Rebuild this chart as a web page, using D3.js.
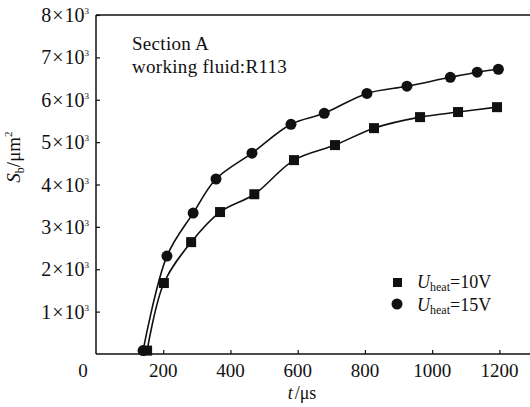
<!DOCTYPE html>
<html>
<head>
<meta charset="utf-8">
<script src="https://cdn.jsdelivr.net/npm/d3@7"></script>
<style>
  body { margin: 0; background: #fff; }
  svg text { font-family: "Liberation Serif", "Times New Roman", serif; fill: #111; }
</style>
</head>
<body>
<div id="chart"></div>
<script>
// S_b vs t, two heating voltages

const tenV_t = [152, 202, 283, 369, 471, 589, 711, 827, 964, 1077, 1193];
const tenV_s = [80, 1675, 2640, 3350, 3770, 4575, 4930, 5330, 5590, 5710, 5825];

const fifteenV_t = [140, 211, 289, 357, 464, 580, 679, 806, 925, 1054, 1134, 1197];
const fifteenV_s = [80, 2310, 3325, 4130, 4740, 5420, 5680, 6150, 6320, 6530, 6650, 6720];

const xTicks = [200, 400, 600, 800, 1000, 1200];
const yTicks = [1, 2, 3, 4, 5, 6, 7, 8];

const W = 530, H = 407;

const svg = d3.select("#chart")
    .append("svg")
    .attr("width", W)
    .attr("height", H);

const x = d3.scaleLinear().domain([0, 1300]).range([96, 533]);
const y = d3.scaleLinear().domain([0, 8000]).range([354, 15]);

// frame lines (left, bottom, top)
svg.append("line").attr("x1", 96).attr("x2", 96).attr("y1", 15).attr("y2", 354)
    .attr("stroke", "#111").attr("stroke-width", 1.5);
svg.append("line").attr("x1", 96).attr("x2", W).attr("y1", 354).attr("y2", 354)
    .attr("stroke", "#111").attr("stroke-width", 1.5);
svg.append("line").attr("x1", 96).attr("x2", W).attr("y1", 15).attr("y2", 15)
    .attr("stroke", "#111").attr("stroke-width", 1.5);

// x axis
const xAxis = svg.append("g")
    .attr("transform", `translate(0,${y(0)})`)
    .call(d3.axisTop(x).tickValues(xTicks).tickSize(4).tickFormat(""));
xAxis.select(".domain").remove();
xAxis.selectAll(".tick line").attr("stroke", "#111").attr("stroke-width", 1.2);

svg.selectAll(".xlab")
    .data(xTicks)
    .enter()
    .append("text")
    .attr("class", "xlab")
    .attr("x", d => x(d))
    .attr("y", 377)
    .attr("text-anchor", "middle")
    .attr("font-size", 19)
    .text(d => d);

svg.append("text")
    .attr("x", 83).attr("y", 377)
    .attr("text-anchor", "middle")
    .attr("font-size", 19)
    .text("0");

// y axis
const yAxis = svg.append("g")
    .attr("transform", `translate(${x(0)},0)`)
    .call(d3.axisRight(y).tickValues(yTicks.map(d => d * 1000)).tickSize(4).tickFormat(""));
yAxis.select(".domain").remove();
yAxis.selectAll(".tick line").attr("stroke", "#111").attr("stroke-width", 1.2);

const ylab = svg.selectAll(".ylab")
    .data(yTicks)
    .enter()
    .append("text")
    .attr("class", "ylab")
    .attr("x", 89)
    .attr("y", d => y(d * 1000) + 7)
    .attr("text-anchor", "end")
    .attr("font-size", 20);
ylab.append("tspan").text(d => d);
ylab.append("tspan").attr("dx", 1).text("×");
ylab.append("tspan").attr("dx", 1).text("10");
ylab.append("tspan").attr("dy", -8).attr("font-size", 9).text("3");

// axis titles
const yt = svg.append("text")
    .attr("transform", "translate(20,157) rotate(-90)")
    .attr("text-anchor", "middle")
    .attr("font-size", 19);
yt.append("tspan").attr("font-style", "italic").text("S");
yt.append("tspan").attr("font-size", 12).attr("dy", 4).text("b");
yt.append("tspan").attr("dy", -4).text("/μm");
yt.append("tspan").attr("font-size", 11).attr("dy", -8).text("2");

const xt = svg.append("text")
    .attr("x", 302).attr("y", 399)
    .attr("text-anchor", "middle")
    .attr("font-size", 18);
xt.append("tspan").attr("font-style", "italic").text("t");
xt.append("tspan").attr("dx", 2).text("/μs");

// annotation
svg.append("text").attr("x", 132).attr("y", 50).attr("font-size", 19)
    .attr("letter-spacing", 0.3).text("Section A");
svg.append("text").attr("x", 132).attr("y", 73).attr("font-size", 19)
    .attr("letter-spacing", 0.3).text("working fluid:R113");

// lines
const line = d3.line()
    .x(d => x(d[0]))
    .y(d => y(d[1]))
    .curve(d3.curveCatmullRom.alpha(0.5));

const tenV = tenV_t.map((t, i) => [t, tenV_s[i]]);
const fifteenV = fifteenV_t.map((t, i) => [t, fifteenV_s[i]]);

svg.append("path").datum(tenV)
    .attr("fill", "none").attr("stroke", "#111").attr("stroke-width", 1.6)
    .attr("d", line);
svg.append("path").datum(fifteenV)
    .attr("fill", "none").attr("stroke", "#111").attr("stroke-width", 1.6)
    .attr("d", line);

// markers
const sq = 10;
svg.selectAll(".sq")
    .data(tenV)
    .enter()
    .append("rect")
    .attr("class", "sq")
    .attr("x", d => x(d[0]) - sq / 2)
    .attr("y", d => y(d[1]) - sq / 2)
    .attr("width", sq).attr("height", sq)
    .attr("fill", "#111");

svg.selectAll(".ci")
    .data(fifteenV)
    .enter()
    .append("circle")
    .attr("class", "ci")
    .attr("cx", d => x(d[0]))
    .attr("cy", d => y(d[1]))
    .attr("r", 5.5)
    .attr("fill", "#111");

// legend
const leg = svg.append("g");
leg.append("rect").attr("x", 393).attr("y", 278).attr("width", 9).attr("height", 9).attr("fill", "#111");
leg.append("circle").attr("cx", 397).attr("cy", 304).attr("r", 5.5).attr("fill", "#111");

const legLabels = ["=10V", "=15V"];
legLabels.forEach((lab, i) => {
    const t = leg.append("text")
        .attr("x", 417).attr("y", 288 + i * 23)
        .attr("font-size", 18);
    t.append("tspan").attr("font-style", "italic").text("U");
    t.append("tspan").attr("font-size", 12).attr("dy", 3).text("heat");
    t.append("tspan").attr("dy", -3).text(lab);
});
</script>
</body>
</html>
